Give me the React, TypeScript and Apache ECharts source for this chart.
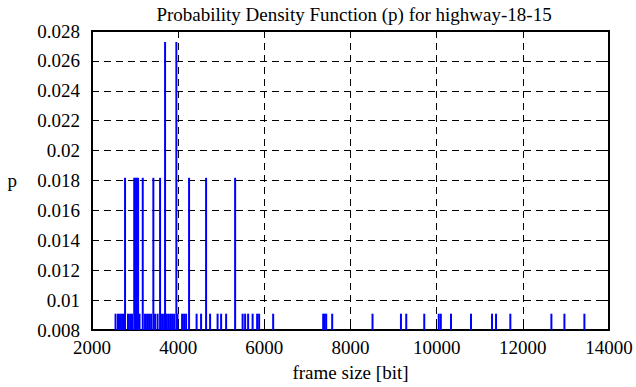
import React, { useEffect, useRef } from "react";
import * as echarts from "echarts";

const TITLE = "Probability Density Function (p) for highway-18-15";
const X_NAME = "frame size [bit]";
const Y_NAME = "p";

// frame sizes (bit) with their probability
const frameSizes = [
  2546, 2604, 2650, 2697, 2743, 2767, 2836, 2883, 2929, 2980, 3010, 3040, 3070,
  3103, 3178, 3231, 3278, 3324, 3371, 3424, 3464, 3522, 3580, 3626, 3673, 3696,
  3719, 3766, 3812, 3858, 3905, 3958, 3985, 4091, 4137, 4184, 4253, 4428, 4532,
  4648, 4741, 4915, 4997, 5113, 5322, 5496, 5554, 5624, 5728, 5833, 5879, 6205,
  7366, 7401, 7436, 7575, 8511, 9171, 9294, 9712, 10049, 10096, 10333, 10797,
  11285, 11378, 11710, 12663, 12965, 13429,
];
const pValues = [
  0.00909, 0.00909, 0.00909, 0.00909, 0.00909, 0.01818, 0.00909, 0.00909, 0.00909, 0.01818, 0.01818, 0.01818, 0.01818,
  0.00909, 0.01818, 0.00909, 0.00909, 0.00909, 0.00909, 0.01818, 0.00909, 0.00909, 0.01818, 0.00909, 0.00909, 0.02727,
  0.00909, 0.00909, 0.00909, 0.00909, 0.00909, 0.02727, 0.00909, 0.00909, 0.00909, 0.00909, 0.01818, 0.00909, 0.00909,
  0.01818, 0.00909, 0.00909, 0.00909, 0.00909, 0.01818, 0.00909, 0.00909, 0.00909, 0.00909, 0.00909, 0.00909, 0.00909,
  0.00909, 0.00909, 0.00909, 0.00909, 0.00909, 0.00909, 0.00909, 0.00909, 0.00909, 0.00909, 0.00909, 0.00909,
  0.00909, 0.00909, 0.00909, 0.00909, 0.00909, 0.00909,
];

const X_MIN = 2000;
const X_MAX = 14000;
const X_STEP = 2000;
const Y_MIN = 0.008;
const Y_MAX = 0.028;
const Y_STEP = 0.002;

const FONT = '"Liberation Serif", "DejaVu Serif", serif';

export default function App() {
  const ref = useRef<HTMLDivElement>(null);
  useEffect(() => {
    if (!ref.current) return;
    const chart = echarts.init(ref.current, undefined, { renderer: "svg" });
    const data = frameSizes.map((x, i) => [x, pValues[i]]);
    const dashed = { show: true, lineStyle: { color: "#000", width: 1, type: [7, 5] as any } };
    const tickInside = { show: true, inside: true, length: 6, lineStyle: { color: "#000", width: 1 } };
    chart.setOption({
      animation: false,
      backgroundColor: "#fff",
      textStyle: { fontFamily: FONT, color: "#000" },
      title: {
        text: TITLE,
        left: 349,
        textAlign: "center",
        top: 0,
        textStyle: { fontFamily: FONT, fontSize: 19, fontWeight: "normal", color: "#000" },
      },
      grid: {
        left: 92,
        right: 27,
        top: 31,
        bottom: 56,
        show: true,
        borderColor: "#000",
        borderWidth: 2,
        backgroundColor: "transparent",
      },
      xAxis: [
        {
          type: "value",
          min: X_MIN,
          max: X_MAX,
          interval: X_STEP,
          name: X_NAME,
          nameLocation: "middle",
          nameGap: 33,
          nameTextStyle: { fontFamily: FONT, fontSize: 19, color: "#000" },
          axisLine: { show: true, lineStyle: { color: "#000", width: 2 } },
          axisTick: tickInside,
          axisLabel: {
            fontFamily: FONT,
            fontSize: 19,
            color: "#000",
            margin: 8,
            formatter: (v: number) => String(Math.round(v)),
          },
          splitLine: dashed,
        },
        {
          type: "value",
          position: "top",
          min: X_MIN,
          max: X_MAX,
          interval: X_STEP,
          axisLine: { show: true, lineStyle: { color: "#000", width: 2 } },
          axisTick: tickInside,
          axisLabel: { show: false },
          splitLine: { show: false },
        },
      ],
      yAxis: [
        {
          type: "value",
          min: Y_MIN,
          max: Y_MAX,
          interval: Y_STEP,
          name: Y_NAME,
          nameLocation: "middle",
          nameRotate: 0,
          nameGap: 75,
          nameTextStyle: { fontFamily: FONT, fontSize: 19, color: "#000" },
          axisLine: { show: true, lineStyle: { color: "#000", width: 2 } },
          axisTick: tickInside,
          axisLabel: {
            fontFamily: FONT,
            fontSize: 19,
            color: "#000",
            margin: 12,
            formatter: (v: number) => String(parseFloat(v.toFixed(3))),
          },
          splitLine: dashed,
        },
        {
          type: "value",
          position: "right",
          min: Y_MIN,
          max: Y_MAX,
          interval: Y_STEP,
          axisLine: { show: true, lineStyle: { color: "#000", width: 2 } },
          axisTick: tickInside,
          axisLabel: { show: false },
          splitLine: { show: false },
        },
      ],
      series: [
        {
          type: "custom",
          xAxisIndex: 0,
          yAxisIndex: 0,
          clip: true,
          data,
          renderItem: (params: any, api: any) => {
            const x = api.value(0);
            const p = api.value(1);
            const top = api.coord([x, p]);
            const bot = api.coord([x, Y_MIN]);
            return {
              type: "line",
              shape: { x1: top[0], y1: top[1], x2: bot[0], y2: bot[1] },
              style: { stroke: "#0000ff", lineWidth: 2 },
            };
          },
        },
      ],
    });
    return () => chart.dispose();
  }, []);
  return (
    <div
      ref={ref}
      style={{ position: "fixed", left: 0, top: 0, width: 636, height: 387, background: "#fff" }}
    />
  );
}
